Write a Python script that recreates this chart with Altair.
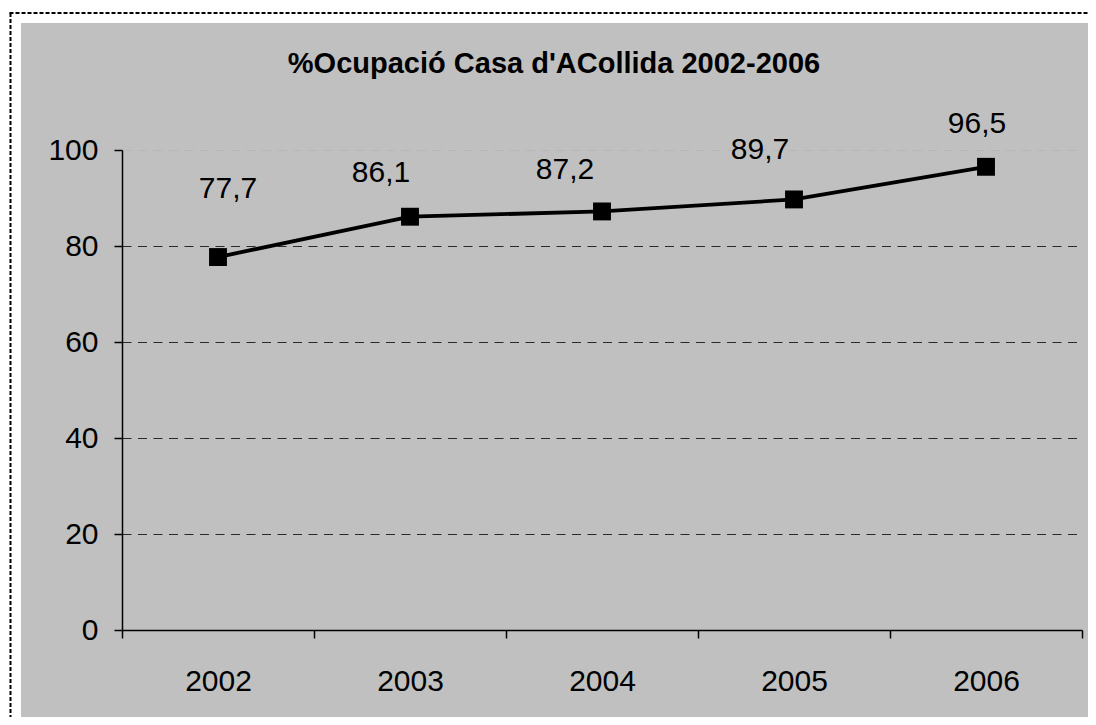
import altair as alt
import pandas as pd

# ---- data ----
years = ["2002", "2003", "2004", "2005", "2006"]
values = [77.7, 86.1, 87.2, 89.7, 96.5]
labels = ["77,7", "86,1", "87,2", "89,7", "96,5"]
title_text = "%Ocupació Casa d'ACollida 2002-2006"

# ---- styling (label placement as in the original) ----
label_offsets = [(10, -59), (-29, -35), (-37, -32), (-34, -40), (-9, -34)]
FONT = "Liberation Sans"

df = pd.DataFrame({"year": years, "value": values, "label": labels})

base = alt.Chart(df)

xenc = alt.X(
    "year:O",
    title=None,
    scale=alt.Scale(paddingInner=0, paddingOuter=0),
    axis=alt.Axis(
        labelAngle=0, tickBand="extent", tickSize=8, tickWidth=1.5, tickColor="black",
        domainColor="black", domainWidth=1.5, labelFont=FONT, labelFontSize=30,
        labelColor="black", labelPadding=28, grid=False,
    ),
)
yenc = alt.Y(
    "value:Q",
    title=None,
    scale=alt.Scale(domain=[0, 100], nice=False),
    axis=alt.Axis(
        values=[0, 20, 40, 60, 80, 100], tickSize=8, tickWidth=1.5, tickColor="black",
        domainColor="black", domainWidth=1.5, labelFont=FONT, labelFontSize=30,
        labelColor="black", labelPadding=16,
        grid=True, gridDash=[9, 6.5], gridWidth=1,
        gridColor=alt.condition("datum.value === 100", alt.value("#b6b6b6"), alt.value("#2a2a2a")),
    ),
)

line = base.mark_line(color="black", strokeWidth=3.8).encode(x=xenc, y=yenc)
pts = base.mark_point(shape="square", filled=True, size=320, color="black", opacity=1).encode(x=xenc, y=yenc)

texts = []
for yr, (dx, dy) in zip(years, label_offsets):
    texts.append(
        base.transform_filter(alt.datum.year == yr)
        .mark_text(dx=dx, dy=dy, align="center", baseline="alphabetic",
                   font=FONT, fontSize=30, color="black")
        .encode(x=xenc, y=yenc, text="label:N")
    )

one = alt.Data(values=[{}])
strip_left = alt.Chart(one).mark_rect(color="white").encode(
    x=alt.value(-114), x2=alt.value(-101), y=alt.value(-142), y2=alt.value(567))
strip_top = alt.Chart(one).mark_rect(color="white").encode(
    x=alt.value(-114), x2=alt.value(966), y=alt.value(-142), y2=alt.value(-127))
border_left = alt.Chart(one).mark_rule(color="black", strokeWidth=2, strokeDash=[4, 2]).encode(
    x=alt.value(-111.5), y=alt.value(-137), y2=alt.value(567))
border_top = alt.Chart(one).mark_rule(color="black", strokeWidth=2, strokeDash=[4, 2]).encode(
    x=alt.value(-112.5), x2=alt.value(966), y=alt.value(-137))

chart = alt.layer(
    strip_left, strip_top, border_left, border_top, line, pts, *texts
).properties(
    width=960,
    height=480,
    background="#C0C0C0",
    autosize=alt.AutoSizeParams(type="none"),
    padding={"left": 114, "top": 142, "right": 6, "bottom": 87},
    title=alt.Title(
        title_text, font=FONT, fontSize=29, fontWeight="bold", color="black",
        anchor="middle", frame="group", dx=-48, offset=0, dy=94, baseline="alphabetic",
    ),
).configure_view(stroke=None)

chart.save("out.html", embed_options={"renderer": "svg", "actions": False})
